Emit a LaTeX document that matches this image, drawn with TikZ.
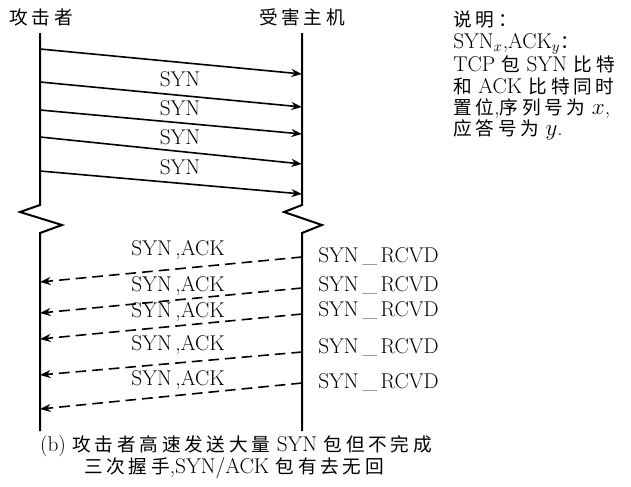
\documentclass[tikz,border=0pt]{standalone}
\usepackage{fontspec}
\newfontfamily\cjk{Noto Sans CJK SC}[LetterSpace=20]
\usetikzlibrary{arrows.meta}
\usetikzlibrary{calc}

\newcommand{\zh}[1]{{\fontsize{14}{16}\cjk #1}}
\newcommand{\latin}{\fontsize{16}{16}\selectfont}

\begin{document}
\begin{tikzpicture}[x=0.75pt,y=-0.75pt,>=Stealth,
		life/.style={line width=1.5pt},
		msg/.style={->,line width=1.2pt,>={Stealth[length=8pt,width=6pt]}},
		reply/.style={msg,dash pattern=on 8pt off 4.5pt},
		lbl/.style={font=\latin,inner sep=0pt}]
		
		\useasboundingbox (0,0) rectangle (631,486);
		
		%--- Headers ---
		\node (att) at (41,17) {\zh{攻击者}};
		\node (vic) at (302,17) {\zh{受害主机}};
		
		%--- Lifelines, broken in the middle ---
		\coordinate (a0) at (40,33);
		\coordinate (b0) at (302,33);
		\draw[life] (a0) -- (40,205) -- (20,212) -- (62,225) -- (40,233) -- (40,431);
		\draw[life] (b0) -- (302,205) -- (284,212) -- (322,225) -- (302,233) -- (302,431);
		
		%--- SYN flood (attacker -> victim) ---
		\foreach \i/\ya/\yb in {1/49/74,2/82/107,3/110/134,4/137/164,5/171/194}{
			\coordinate (s\i) at (40,\ya);
			\coordinate (t\i) at (302,\yb);
			\draw[msg] (s\i) -- (t\i);
		}
		\foreach \i/\y in {1/79,2/108,3/137,4/167}
			\node[lbl] (syn\i) at (180,\y) {SYN};
		
		%--- SYN/ACK replies (victim -> attacker), never answered ---
		\foreach \i/\ya/\yb/\yl/\yr in {1/257/282/250/256,2/288/313/286/285,3/314/339/312/310,4/352/375/345/347,5/383/409/380/382}{
			\coordinate (u\i) at (302,\ya);
			\coordinate (v\i) at (40,\yb);
			\draw[reply] (u\i) -- (v\i);
			\node[lbl] (ack\i) at (178,\yl) {SYN\,,ACK};
			\node[lbl,anchor=west] (rcvd\i) at (318,\yr) {SYN\,\_\,RCVD};
		}
		
		%--- Note ---
		\node[anchor=north west,align=left,inner sep=0pt,font=\latin] (note) at (453,11)
			{\zh{说明：}\\ SYN$_x$,ACK$_y$\zh{：}\\ TCP \zh{包} SYN \zh{比特}\\
			 \zh{和} ACK \zh{比特同时}\\ \zh{置位},\zh{序列号为} $x$,\\ \zh{应答号为} $y$.};
		
		%--- Caption ---
		\node[lbl] (cap1) at (236,446) {(b) \zh{攻击者高速发送大量} SYN \zh{包但不完成}};
		\node[lbl] (cap2) at (234,468) {\zh{三次握手},SYN/ACK \zh{包有去无回}};
		
	\end{tikzpicture}
\end{document}
